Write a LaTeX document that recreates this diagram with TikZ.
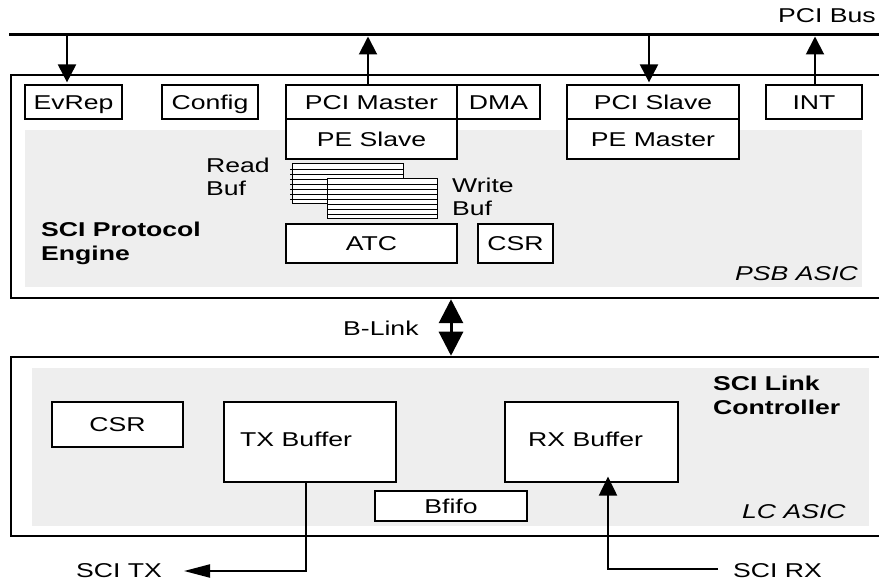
\documentclass[tikz,border=0pt]{standalone}
\usepackage{fontspec}
\setmainfont[FakeStretch=1.33]{Liberation Sans}
\usetikzlibrary{arrows.meta}
\definecolor{panel}{RGB}{238,238,238}
\begin{document}
\begin{tikzpicture}[x=1pt,y=-1pt,
  txt/.style={font=\fontsize{20}{24}\selectfont},
  lbl/.style={txt, inner sep=0pt, anchor=base west},
  blk/.style={txt, draw, line width=1.2pt, fill=white, inner sep=0pt,
              text height=14.3pt, text depth=0pt},
  asic/.style={draw, line width=2.5pt, inner sep=0pt},
  tap/.style={line width=2pt, -{Triangle[width=18pt,length=18pt]}},
]
\useasboundingbox (0,0) rectangle (879,580);
\begin{scope}
\clip (0,0) rectangle (879,580);

% PCI bus
\coordinate (busL) at (9,35);
\coordinate (busR) at (890,35);
\draw[line width=3pt] (busL) -- (busR);
\node[lbl] (pcibus) at (778,23) {PCI Bus};

% the two ASIC packages
\node[asic, minimum width=889pt, minimum height=223pt] (psb) at (455.5,186.5) {};
\node[asic, minimum width=889pt, minimum height=179pt] (lc) at (455.5,446.5) {};

% shaded engine areas
\fill[panel] (25,130) rectangle (862,287);
\fill[panel] (32,368) rectangle (869,526);

% PSB ASIC blocks
\node[blk, minimum width=97pt, minimum height=34pt] (evrep) at (73.5,102) {EvRep};
\node[blk, minimum width=96pt, minimum height=34pt] (config) at (210,102) {Config};
\node[blk, minimum width=171pt, minimum height=40pt] (pesl) at (371.5,139) {PE Slave};
\node[blk, minimum width=171pt, minimum height=34pt] (pcim) at (371.5,102) {PCI Master};
\node[blk, minimum width=83pt, minimum height=34pt] (dma) at (498.5,102) {DMA};
\node[blk, minimum width=172pt, minimum height=40pt] (pema) at (653,139) {PE Master};
\node[blk, minimum width=172pt, minimum height=34pt] (pcis) at (653,102) {PCI Slave};
\node[blk, minimum width=96pt, minimum height=34pt] (int) at (814,102) {INT};
\node[blk, minimum width=171pt, minimum height=39pt] (atc) at (371.5,243.5) {ATC};
\node[blk, minimum width=75pt, minimum height=39pt] (csra) at (515.5,243.5) {CSR};

% read and write buffers (stacked line buffers)
\draw[fill=white, line width=1pt] (292,164) rectangle (403,204);
\foreach \yy in {169,174,...,199} \draw[line width=0.8pt] (290,\yy) -- (403,\yy);
\draw[fill=white, line width=1pt] (327,179) rectangle (437,219);
\foreach \yy in {184,189,...,214} \draw[line width=0.8pt] (327,\yy) -- (437,\yy);

\node[lbl] (readA) at (206,173) {Read};
\node[lbl] (readB) at (206,196) {Buf};
\node[lbl] (writeA) at (452,193) {Write};
\node[lbl] (writeB) at (452,216) {Buf};
\node[lbl, font=\fontsize{20}{24}\selectfont\bfseries] (pe1) at (41,237) {SCI Protocol};
\node[lbl, font=\fontsize{20}{24}\selectfont\bfseries] (pe2) at (41,261) {Engine};
\node[lbl, font=\fontsize{20}{24}\selectfont\itshape] (psbname) at (735,281) {PSB ASIC};

% bus taps
\coordinate (tapA) at (67,35);
\coordinate (tapB) at (368,35);
\coordinate (tapC) at (649,35);
\coordinate (tapD) at (815,35);
\draw[tap, shorten >=2pt] (tapA) -- (tapA |- evrep.north);
\draw[tap, shorten >=1.5pt] (tapB |- pcim.north) -- (tapB);
\draw[tap, shorten >=2pt] (tapC) -- (tapC |- pcis.north);
\draw[tap, shorten >=1.5pt] (tapD |- int.north) -- (tapD);

% B-Link between the ASICs
\coordinate (bl) at (451,0);
\draw[line width=3pt, {Triangle[width=24pt,length=24pt]}-{Triangle[width=24pt,length=24pt]}]
  (bl |- psb.south) -- (bl |- lc.north);
\node[lbl] (blink) at (343,336) {B-Link};

% LC ASIC blocks
\node[blk, minimum width=131pt, minimum height=45pt] (csrb) at (117.5,424.5) {CSR};
\node[blk, minimum width=172pt, minimum height=80pt] (txbuf) at (310,442) {};
\node[lbl] (txtext) at (240,446) {TX Buffer};
\node[blk, minimum width=173pt, minimum height=80pt] (rxbuf) at (591.5,442) {};
\node[lbl] (rxtext) at (528,446) {RX Buffer};
\node[blk, minimum width=152pt, minimum height=30pt] (bfifo) at (451,506) {Bfifo};
\node[lbl, font=\fontsize{20}{24}\selectfont\bfseries] (lc1) at (713,390) {SCI Link};
\node[lbl, font=\fontsize{20}{24}\selectfont\bfseries] (lc2) at (713,414) {Controller};
\node[lbl, font=\fontsize{20}{24}\selectfont\itshape] (lcname) at (742,518) {LC ASIC};

% SCI transmit and receive links
\coordinate (txc) at (306,571);
\coordinate (txend) at (184,571);
\draw[line width=2pt, -{Triangle[width=13pt,length=26pt]}] (txbuf.south -| txc) -- (txc) -- (txend);
\node[lbl] (scitx) at (76,577) {SCI TX};

\coordinate (rxc) at (608,569);
\coordinate (rxs) at (718,569);
\draw[line width=2pt, shorten >=-6pt, -{Triangle[width=18pt,length=19pt]}] (rxs) -- (rxc) -- (rxc |- rxbuf.south);
\node[lbl] (scirx) at (733,577) {SCI RX};
\end{scope}
\end{tikzpicture}
\end{document}
